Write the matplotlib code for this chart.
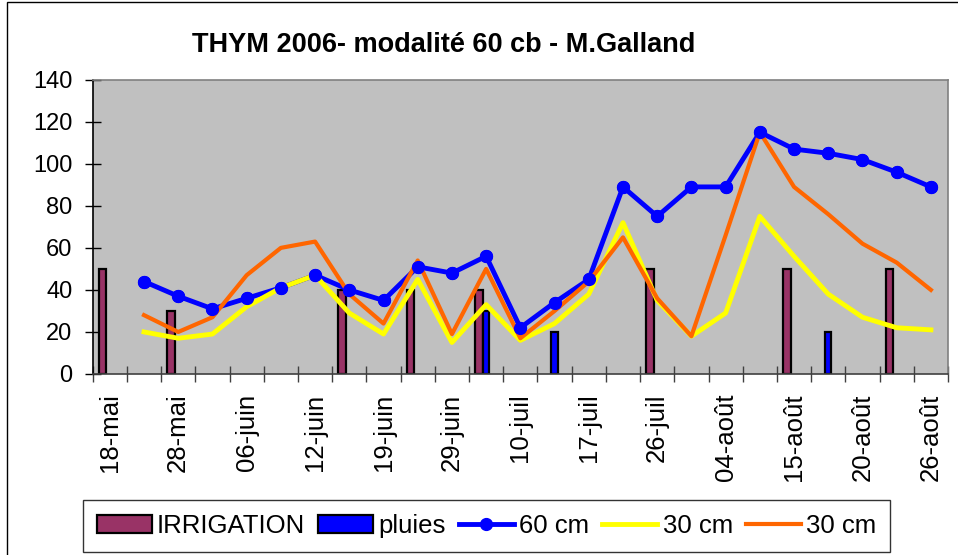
import numpy as np
import matplotlib.pyplot as plt
from matplotlib.patches import Rectangle

plt.rcParams['font.family'] = ['Liberation Sans', 'DejaVu Sans']

# 25 categories, labels shown on every other one
n_cat = 25
tick_labels = ['18-mai', '28-mai', '06-juin', '12-juin', '19-juin', '29-juin', '10-juil',
               '17-juil', '26-juil', '04-août', '15-août', '20-août', '26-août']

irrigation = [50, 0, 30, 0, 0, 0, 0, 40, 0, 40, 0, 40, 0, 0, 0, 0, 50, 0, 0, 0, 50, 0, 0, 50, 0]
pluies = [0, 0, 0, 0, 0, 0, 0, 0, 0, 0, 0, 30, 0, 20, 0, 0, 0, 0, 0, 0, 0, 20, 0, 0, 0]
cm60 = [np.nan, 44, 37, 31, 36, 41, 47, 40, 35, 51, 48, 56, 22, 34, 45, 89, 75, 89, 89, 115, 107, 105, 102, 96, 89]
cm30_y = [np.nan, 20, 17, 19, 32, 41, 47, 29, 19, 45, 15, 33, 16, 24, 38, 72, 35, 18, 29, 75, 56, 38, 27, 22, 21]
cm30_o = [np.nan, 28, 20, 27, 47, 60, 63, 38, 24, 54, 19, 50, 17, 30, 44, 65, 36, 18, 66, 115, 89, 76, 62, 53, 40]

x = np.arange(n_cat)
irr = np.array(irrigation, dtype=float)
plu = np.array(pluies, dtype=float)

fig = plt.figure(figsize=(9.58, 5.55), dpi=100)
ax = fig.add_axes([92.7 / 958, 1 - 374 / 555, (948 - 92.7) / 958, (374 - 79.7) / 555])
ax.set_facecolor('#C0C0C0')

bw = 0.22
m = irr > 0
h_irr = ax.bar(x[m] - 0.21, irr[m], width=bw, color='#993366', edgecolor='black', linewidth=1.6,
               label='IRRIGATION', zorder=2)
m = plu > 0
h_plu = ax.bar(x[m], plu[m], width=bw * 0.85, color='#0000FF', edgecolor='black', linewidth=1.6,
               label='pluies', zorder=2)

h60, = ax.plot(x, cm60, color='#0000FF', lw=3.5, marker='o', ms=8.5, label='60 cm', zorder=3)
hy, = ax.plot(x, cm30_y, color='#FFFF00', lw=3.5, label='30 cm', zorder=4)
ho, = ax.plot(x, cm30_o, color='#FF6600', lw=3, label='30 cm', zorder=5)
ax.plot(x, cm60, color='#0000FF', lw=0, marker='o', ms=8.5, zorder=6)

ax.set_xlim(-0.5, n_cat - 0.5)
ax.set_ylim(0, 140)
ax.set_yticks(range(0, 141, 20))
ax.tick_params(axis='y', direction='inout', length=11, width=1, pad=9, labelsize=17)
ax.set_xticks(np.arange(-0.5, n_cat, 1))
ax.set_xticklabels([])
ax.tick_params(axis='x', which='major', direction='inout', length=11, width=1, color='#404040')
ax.set_xticks(x[::2], minor=True)
ax.set_xticklabels(tick_labels, minor=True, rotation=90, fontsize=18.5)
ax.tick_params(axis='x', which='minor', length=0, pad=14)

ax.spines['left'].set_color('black')
ax.spines['bottom'].set_color('#404040')
ax.spines['top'].set_color('#808080')
ax.spines['right'].set_color('#808080')
for s in ax.spines.values():
    s.set_linewidth(1.2)

fig.text(444 / 958, 1 - 51.7 / 555, 'THYM 2006- modalité 60 cb - M.Galland',
         ha='center', va='baseline', fontsize=19.5, fontweight='bold')

leg = fig.legend([h_irr, h_plu, h60, hy, ho], ['IRRIGATION', 'pluies', '60 cm', '30 cm', '30 cm'],
                 loc='center', bbox_to_anchor=(486.5 / 958, 1 - 526 / 555), ncol=5,
                 fontsize=18.5, frameon=True, fancybox=False, edgecolor='black',
                 handlelength=2.15, handletextpad=0.2, columnspacing=0.5,
                 borderpad=0.55, borderaxespad=0)
leg.get_frame().set_linewidth(1)

fig.patches.append(Rectangle((6.5 / 958, -0.1), 2, 1.1 - 2 / 555, transform=fig.transFigure,
                             fill=False, edgecolor='black', linewidth=1))

fig.savefig('out.png', dpi=100)
